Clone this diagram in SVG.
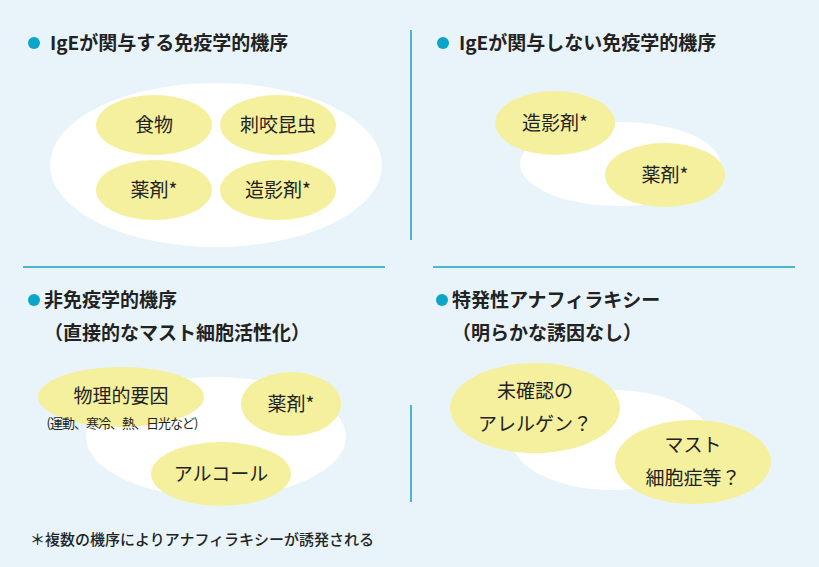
<svg xmlns="http://www.w3.org/2000/svg" width="819" height="567" viewBox="0 0 819 567">
<style>
text{font-family:"Noto Sans CJK JP","Noto Sans",sans-serif;fill:#222}
.t{font-size:19px;font-weight:bold}
.n{font-size:19px;text-anchor:middle}
.w{fill:#fff}
.y{fill:#f5f09e}
.d{fill:#0aa5c8}
.l{stroke:#1aa0c0;stroke-width:1.5}
</style>
<rect width="819" height="567" fill="#e8f4f9"/>
<g id="dividers">
<line class="l" x1="411" y1="30" x2="411" y2="240"/>
<line class="l" x1="411" y1="405" x2="411" y2="502"/>
<line class="l" x1="23" y1="267" x2="385" y2="267"/>
<line class="l" x1="433" y1="267" x2="795" y2="267"/>
</g>
<g id="q1">
<circle class="d" cx="34" cy="43" r="6"/>
<text class="t" x="50" y="50">IgEが関与する免疫学的機序</text>
<ellipse class="w" cx="216" cy="165" rx="166" ry="82"/>
<g id="n1"><ellipse class="y" cx="154" cy="125" rx="58" ry="30"/><text class="n" x="154" y="132">食物</text></g>
<g id="n2"><ellipse class="y" cx="278" cy="125" rx="58" ry="30"/><text class="n" x="278" y="132">刺咬昆虫</text></g>
<g id="n3"><ellipse class="y" cx="154" cy="190" rx="58" ry="30"/><text class="n" x="154" y="197">薬剤*</text></g>
<g id="n4"><ellipse class="y" cx="278" cy="190" rx="58" ry="30"/><text class="n" x="278" y="197">造影剤*</text></g>
</g>
<g id="q2">
<circle class="d" cx="443" cy="43" r="6"/>
<text class="t" x="459" y="50">IgEが関与しない免疫学的機序</text>
<ellipse class="w" cx="620" cy="164" rx="100" ry="42"/>
<g id="n5"><ellipse class="y" cx="555" cy="123" rx="60" ry="32"/><text class="n" x="555" y="130">造影剤*</text></g>
<g id="n6"><ellipse class="y" cx="665" cy="175" rx="60" ry="32"/><text class="n" x="665" y="182">薬剤*</text></g>
</g>
<g id="q3">
<circle class="d" cx="34" cy="300" r="6"/>
<text class="t" x="44" y="307">非免疫学的機序</text>
<text class="t" x="44" y="340">（直接的なマスト細胞活性化）</text>
<ellipse class="w" cx="216" cy="437" rx="130" ry="60"/>
<g id="n7"><ellipse class="y" cx="121" cy="397" rx="83" ry="30"/><text class="n" x="121" y="403">物理的要因</text><text x="122" y="428" font-size="13" letter-spacing="-1" text-anchor="middle">(運動、寒冷、熱、日光など)</text></g>
<g id="n8"><ellipse class="y" cx="291" cy="404" rx="50" ry="32"/><text class="n" x="291" y="411">薬剤*</text></g>
<g id="n9"><ellipse class="y" cx="221" cy="474" rx="70" ry="32"/><text class="n" x="221" y="481">アルコール</text></g>
</g>
<g id="q4">
<circle class="d" cx="442" cy="300" r="6"/>
<text class="t" x="452" y="307">特発性アナフィラキシー</text>
<text class="t" x="452" y="340">（明らかな誘因なし）</text>
<ellipse class="w" cx="612" cy="440" rx="100" ry="50"/>
<g id="n10"><ellipse class="y" cx="535" cy="408" rx="85" ry="45"/><text class="n" x="535" y="398">未確認の</text><text class="n" x="535" y="431">アレルゲン？</text></g>
<g id="n11"><ellipse class="y" cx="693" cy="462" rx="78" ry="42"/><text class="n" x="693" y="452">マスト</text><text class="n" x="693" y="485">細胞症等？</text></g>
</g>
<text x="30" y="545" font-size="15" font-weight="500">＊複数の機序によりアナフィラキシーが誘発される</text>
</svg>
